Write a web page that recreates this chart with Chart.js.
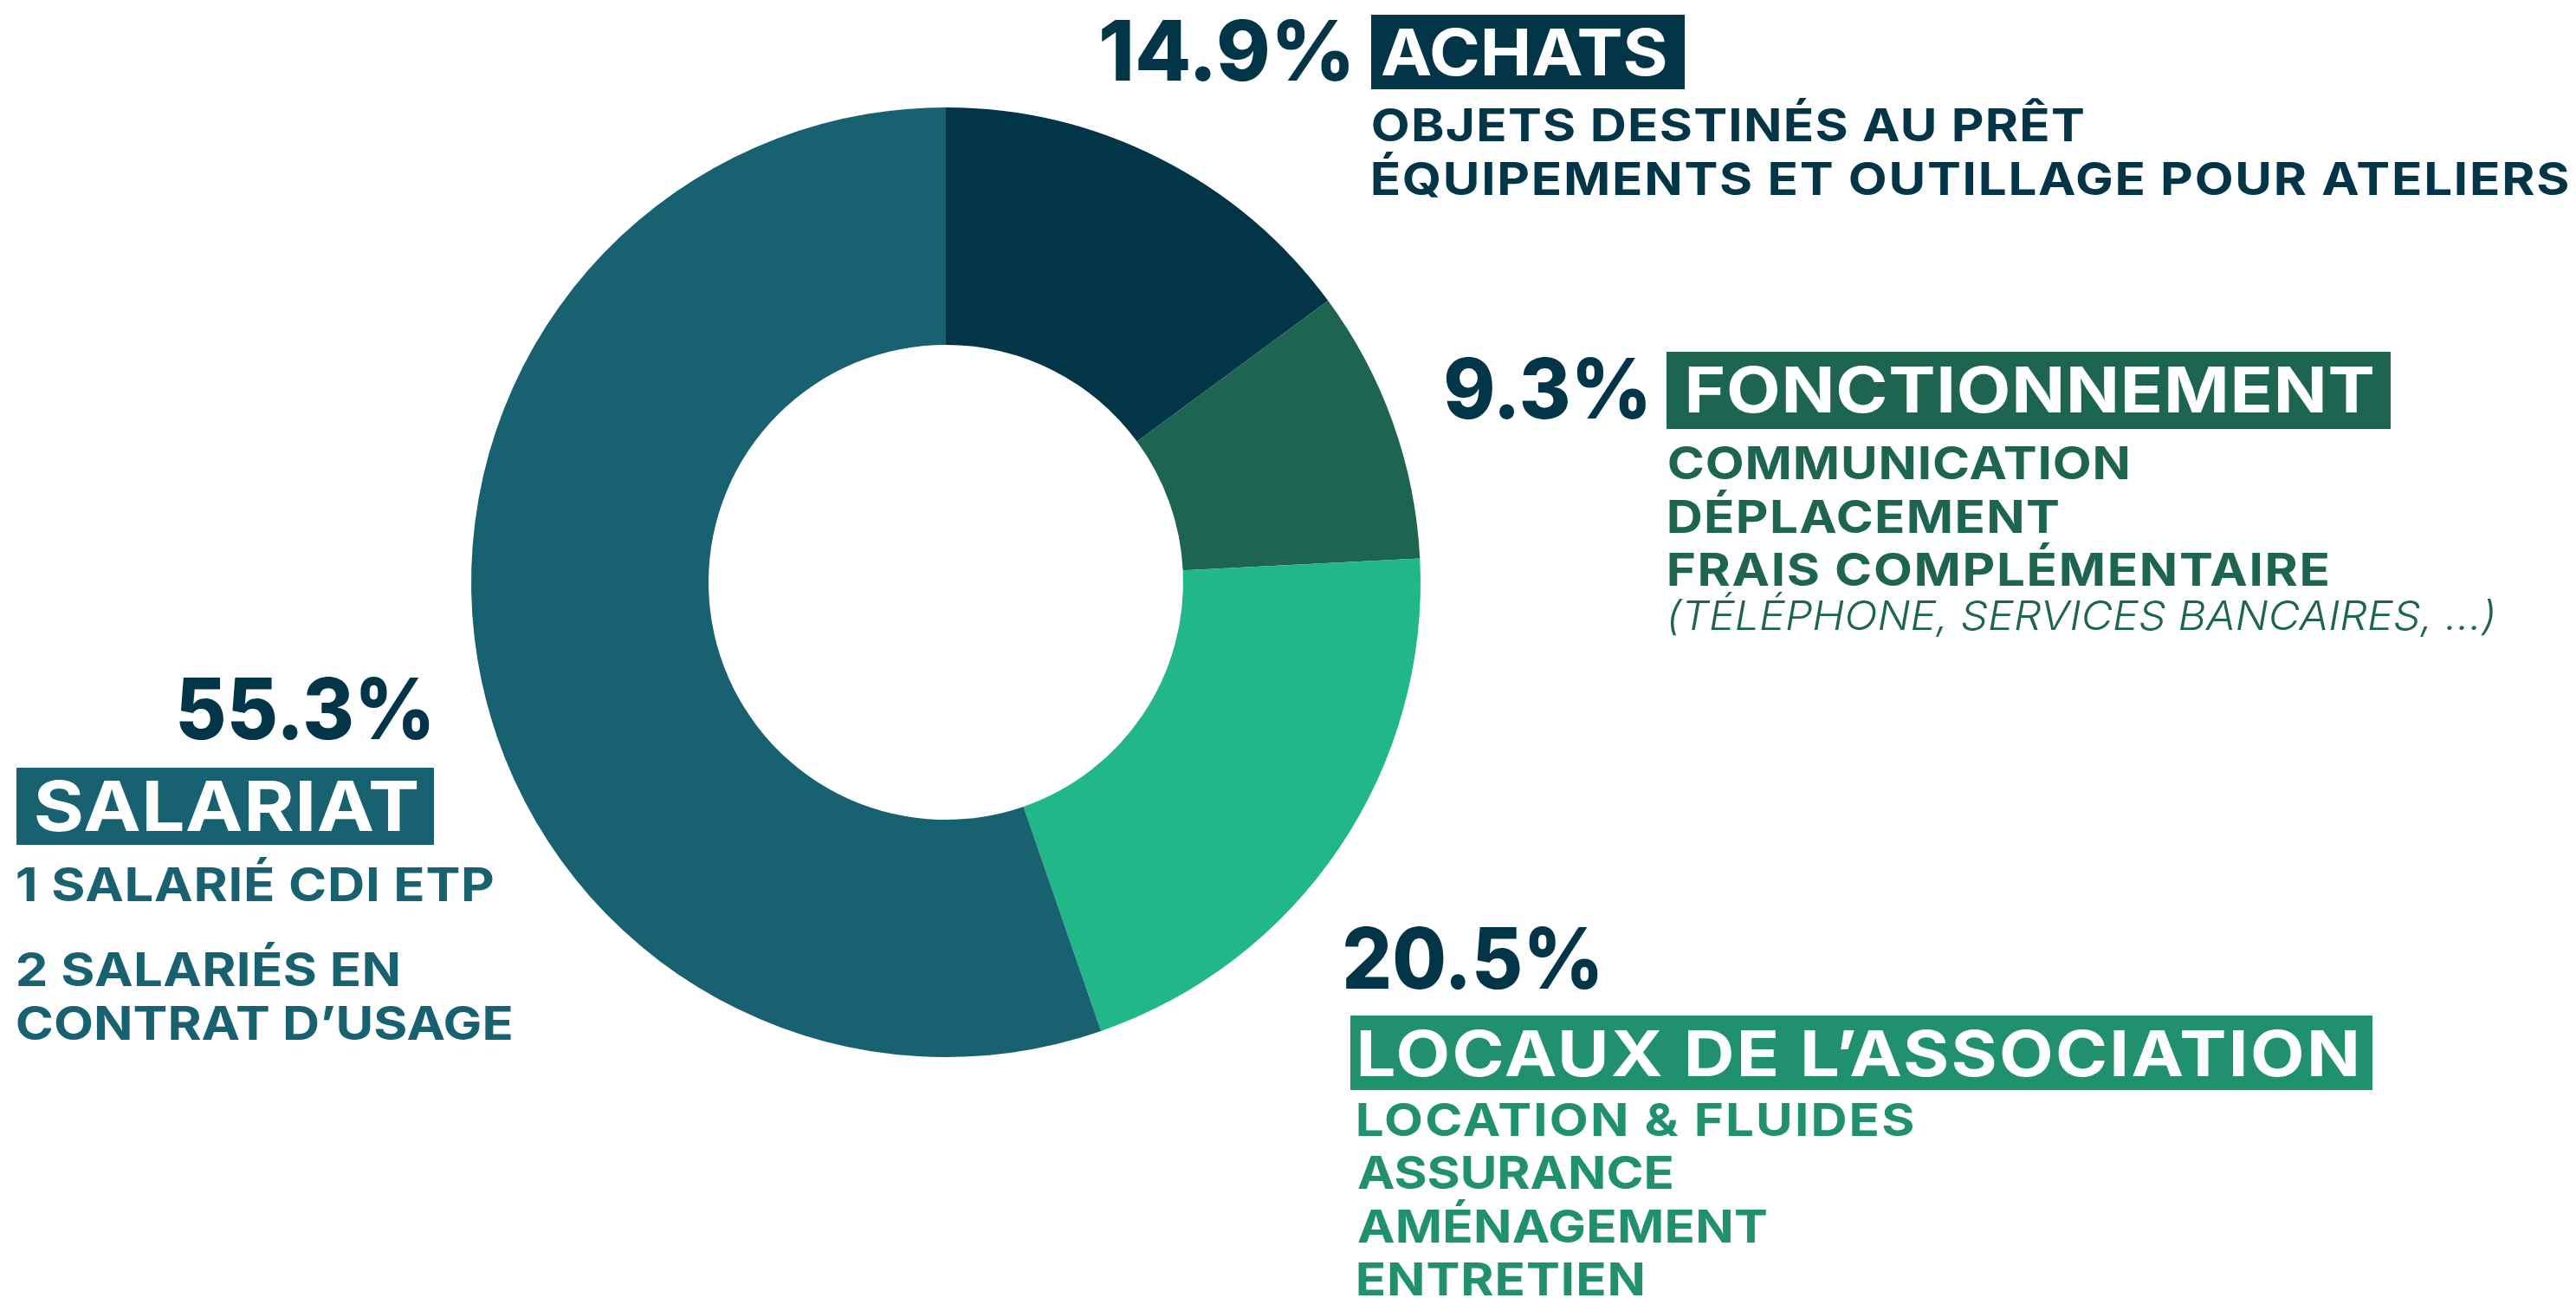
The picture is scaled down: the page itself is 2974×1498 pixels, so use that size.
<!DOCTYPE html>
<html lang="fr">
<head>
<meta charset="utf-8">
<title>Répartition des dépenses</title>
<script src="https://cdn.jsdelivr.net/npm/chart.js@4.4.1/dist/chart.umd.min.js"></script>
<style>
  html, body { margin: 0; padding: 0; background: #fff; overflow: hidden; }
  #zone { position: relative; width: 2974px; height: 1498px; }
</style>
</head>
<body>
<div id="zone"><canvas id="graficoDepenses"></canvas></div>
<script>
// valeurs (en %)
const categories = ['ACHATS', 'FONCTIONNEMENT', 'LOCAUX DE L’ASSOCIATION', 'SALARIAT'];
const valeurs = [14.9, 9.3, 20.5, 55.3];
const detailsAchats = ['OBJETS DESTINÉS AU PRÊT', 'ÉQUIPEMENTS ET OUTILLAGE POUR ATELIERS'];
const detailsFonctionnement = ['COMMUNICATION', 'DÉPLACEMENT', 'FRAIS COMPLÉMENTAIRE'];
const noteFonctionnement = '(TÉLÉPHONE, SERVICES BANCAIRES, …)';
const detailsLocaux = ['LOCATION & FLUIDES', 'ASSURANCE', 'AMÉNAGEMENT', 'ENTRETIEN'];
const detailsSalariat = ['1 SALARIÉ CDI ETP', '2 SALARIÉS EN', 'CONTRAT D’USAGE'];

const couleurs = ['#023547', '#1d6451', '#21b789', '#186170'];
const couleursTitre = ['#023547', '#1d6451', '#21906e', '#186170'];
const couleurPct = '#023547';
const police = 'Inter';

// écrit un texte calé entre gauche et droite : un peu d'étirement, le reste en espacement
function ecrire(ctx, txt, gauche, droite, base, cap, couleur, poids, italique) {
    const style = italique ? 'italic ' : '';
    ctx.save();
    ctx.letterSpacing = '0px';
    ctx.font = `${style}${poids} 100px ${police}`;
    const h = ctx.measureText('H').actualBoundingBoxAscent;
    const taille = 100 * cap / h;
    ctx.font = `${style}${poids} ${taille}px ${police}`;
    const m = ctx.measureText(txt);
    const encre = m.actualBoundingBoxLeft + m.actualBoundingBoxRight;
    const n = [...txt].length;
    const cible = droite - gauche;
    let sx = Math.min(Math.max(cible / encre, 0.9), 1.12);
    const esp = n > 1 ? (cible / sx - encre) / (n - 1) : 0;
    ctx.letterSpacing = esp + 'px';
    ctx.fillStyle = couleur;
    ctx.textAlign = 'left';
    ctx.textBaseline = 'alphabetic';
    ctx.translate(gauche, base);
    ctx.scale(sx, 1);
    ctx.fillText(txt, m.actualBoundingBoxLeft, 0);
    ctx.restore();
}

function boite(ctx, x, y, w, h, couleur) {
    ctx.fillStyle = couleur;
    ctx.fillRect(x, y, w, h);
}

function pct(i) {
    return valeurs[i].toFixed(1) + '%';
}

const etiquettes = {
    id: 'etiquettes',
    afterDraw(chart) {
        const ctx = chart.ctx;

        // achats
        ecrire(ctx, pct(0), 1272, 1557, 93, 70, couleurPct, 800);
        boite(ctx, 1583, 17, 362, 86, couleursTitre[0]);
        ecrire(ctx, categories[0], 1595, 1923, 87, 54, '#fff', 700);
        detailsAchats.forEach((t, k) => {
            const fin = [2405, 2964][k];
            ecrire(ctx, t, 1585, fin, 163 + k * 62, 38, couleursTitre[0], 700);
        });

        // fonctionnement
        ecrire(ctx, pct(1), 1669, 1900, 483, 70, couleurPct, 800);
        boite(ctx, 1924, 406, 836, 89, couleursTitre[1]);
        ecrire(ctx, categories[1], 1949, 2739, 476, 53, '#fff', 700);
        detailsFonctionnement.forEach((t, k) => {
            const fin = [2457, 2376, 2687][k];
            ecrire(ctx, t, 1927, fin, 553 + k * 61.5, 38, couleursTitre[1], 700);
        });
        ecrire(ctx, noteFonctionnement, 1928, 2879, 727, 34, couleursTitre[1], 300, true);

        // locaux
        ecrire(ctx, pct(2), 1553, 1845, 1141, 71, couleurPct, 800);
        boite(ctx, 1559, 1172, 1180, 86, couleursTitre[2]);
        ecrire(ctx, categories[2], 1570, 2720, 1242, 53, '#fff', 700);
        detailsLocaux.forEach((t, k) => {
            const fin = [2208, 1930, 2039, 1897][k];
            ecrire(ctx, t, 1568, fin, 1311 + k * 61.3, 38, couleursTitre[2], 700);
        });

        // salariat
        ecrire(ctx, pct(3), 207, 496, 853, 71, couleurPct, 800);
        boite(ctx, 19, 886, 482, 89, couleursTitre[3]);
        ecrire(ctx, categories[3], 42, 482, 959, 58, '#fff', 700);
        const basesSal = [1040, 1138, 1200];
        const finsSal = [569, 460, 590];
        detailsSalariat.forEach((t, k) => {
            ecrire(ctx, t, 20, finsSal[k], basesSal[k], 39, couleursTitre[3], 700);
        });
    }
};

const ctx = document.getElementById('graficoDepenses').getContext('2d');

document.fonts.load(`700 50px ${police}`).finally(() => {
    new Chart(ctx, {
        type: 'doughnut',
        data: {
            labels: categories,
            datasets: [{
                data: valeurs,
                backgroundColor: couleurs,
                borderWidth: 0
            }]
        },
        options: {
            responsive: true,
            maintainAspectRatio: false,
            animation: false,
            cutout: '50%',
            layout: {
                padding: { left: 544, right: 1334, top: 124, bottom: 278 }
            },
            plugins: {
                legend: { display: false },
                tooltip: { enabled: false }
            }
        },
        plugins: [etiquettes]
    });
});
</script>
</body>
</html>
